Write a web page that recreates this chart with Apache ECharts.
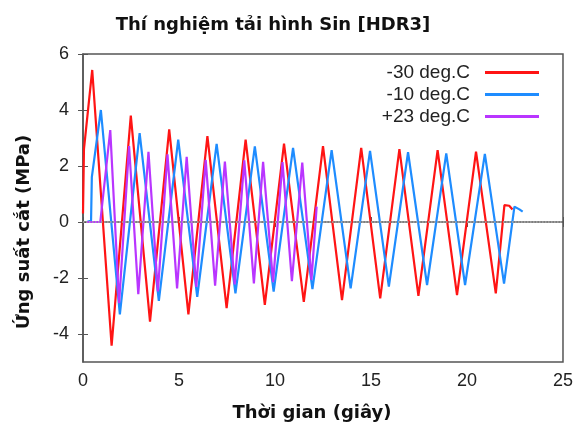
<!DOCTYPE html>
<html>
<head>
<meta charset="utf-8">
<script src="https://cdn.jsdelivr.net/npm/echarts@6/dist/echarts.min.js"></script>
<style>
  html, body { margin: 0; padding: 0; background: #fff; }
  #main { width: 576px; height: 427px; }
</style>
</head>
<body>
<div id="main"></div>
<script>
// turning points of each recorded curve (time in s, stress in MPa)
const redT = [0, 0.05, 0.48, 1.49, 2.49, 3.49, 4.49, 5.49, 6.48, 7.48, 8.47, 9.47, 10.47, 11.5, 12.5, 13.49, 14.49, 15.48, 16.48, 17.47, 18.47, 19.48, 20.47, 21.5, 21.95, 22.2, 22.37];
const redV = [0.3, 2.6, 5.43, -4.42, 3.8, -3.56, 3.31, -3.3, 3.07, -3.08, 2.94, -2.96, 2.8, -2.85, 2.71, -2.79, 2.65, -2.73, 2.6, -2.64, 2.57, -2.61, 2.51, -2.55, 0.6, 0.58, 0.45];

const blueT = [0.2, 0.42, 0.46, 0.93, 1.92, 2.95, 3.95, 4.96, 5.95, 6.96, 7.94, 8.95, 9.93, 10.94, 11.95, 12.95, 13.94, 14.95, 15.93, 16.93, 17.92, 18.92, 19.9, 20.93, 21.93, 22.47, 22.73, 22.9];
const blueV = [0, 0.05, 1.6, 4.0, -3.3, 3.17, -2.82, 2.94, -2.67, 2.79, -2.55, 2.7, -2.49, 2.65, -2.4, 2.57, -2.37, 2.54, -2.31, 2.49, -2.25, 2.45, -2.25, 2.43, -2.2, 0.55, 0.45, 0.37];

const purpleT = [0.2, 0.9, 1.42, 1.88, 2.4, 2.88, 3.41, 3.9, 4.4, 4.9, 5.4, 5.9, 6.39, 6.88, 7.39, 7.9, 8.4, 8.9, 9.38, 9.9, 10.39, 10.88, 11.42, 11.9, 12.17];
const purpleV = [0, 0, 3.28, -2.9, 2.71, -2.58, 2.51, -2.48, 2.42, -2.37, 2.33, -2.32, 2.22, -2.27, 2.16, -2.23, 2.2, -2.19, 2.15, -2.15, 2.14, -2.11, 2.12, -2.07, 0.55];

const seriesNames = ['-30 deg.C', '-10 deg.C', '+23 deg.C'];
const yTicks = [-4, -2, 0, 2, 4, 6];

const pairs = (t, v) => t.map((x, i) => [x, v[i]]);

const myChart = echarts.init(document.getElementById('main'));

const mkLine = (name, t, v, color) => ({
  name,
  type: 'line',
  data: pairs(t, v),
  symbol: 'none',
  lineStyle: { color, width: 2.2 },
  itemStyle: { color },
  animation: false,
});

const option = {
  animation: false,
  title: {
    text: 'Thí nghiệm tải hình Sin [HDR3]',
    left: 268,
    textAlign: 'center',
    top: 11,
    textStyle: { fontFamily: 'DejaVu Sans', fontSize: 18, fontWeight: 'bold', color: '#111' },
  },
  legend: {
    orient: 'vertical',
    right: 32,
    top: 57,
    align: 'right',
    icon: 'rect',
    itemWidth: 54,
    itemHeight: 3,
    itemGap: 1,
    textStyle: { fontFamily: 'Liberation Sans', fontSize: 19, color: '#222', padding: [0, 10, 0, 0], lineHeight: 21 },
    data: seriesNames,
  },
  grid: {
    left: 83, right: 13, top: 54, bottom: 64,
    show: true, borderColor: '#555', borderWidth: 1.5,
  },
  xAxis: [
    {
      type: 'value', min: 0, max: 25, interval: 5,
      name: 'Thời gian (giây)',
      nameLocation: 'middle',
      nameGap: 42,
      nameTextStyle: { fontFamily: 'DejaVu Sans', fontSize: 18, fontWeight: 'bold', color: '#111', padding: [0, 22, 0, 0] },
      axisLine: { show: true, lineStyle: { color: '#555', width: 1.5 } },
      axisTick: { inside: true, length: 5, lineStyle: { color: '#555' } },
      axisLabel: { fontFamily: 'Liberation Sans', fontSize: 18, color: '#222', margin: 10 },
      splitLine: { show: false },
    },
    {
      type: 'value', min: 0, max: 25, interval: 5, position: 'top',
      axisLine: { show: false },
      axisTick: { inside: true, length: 5, lineStyle: { color: '#555' } },
      axisLabel: { show: false },
      splitLine: { show: false },
    },
  ],
  yAxis: [
    {
      type: 'value', min: -5, max: 6,
      name: 'Ứng suất cắt (MPa)',
      nameLocation: 'middle',
      nameGap: 50,
      nameTextStyle: { fontFamily: 'DejaVu Sans', fontSize: 18, fontWeight: 'bold', color: '#111', padding: [0, 48, 0, 0] },
      axisLine: { show: true, lineStyle: { color: '#555', width: 1.5 } },
      axisTick: { inside: true, length: 5, customValues: yTicks, lineStyle: { color: '#555' } },
      axisLabel: { fontFamily: 'Liberation Sans', fontSize: 18, color: '#222', margin: 14, customValues: yTicks },
      splitLine: { show: false },
    },
    {
      type: 'value', min: -5, max: 6, position: 'right',
      axisLine: { show: false },
      axisTick: { inside: true, length: 5, customValues: yTicks, lineStyle: { color: '#555' } },
      axisLabel: { show: false, customValues: yTicks },
      splitLine: { show: false },
    },
  ],
  series: [
    Object.assign(mkLine(seriesNames[0], redT, redV, '#ff1414'), {
      markLine: {
        silent: true,
        symbol: 'none',
        label: { show: false },
        lineStyle: { color: '#aaa', type: 'dotted', width: 1.5 },
        data: [{ yAxis: 0 }],
      },
    }),
    mkLine(seriesNames[1], blueT, blueV, '#1e8cff'),
    mkLine(seriesNames[2], purpleT, purpleV, '#b935ff'),
  ],
};

myChart.setOption(option);
</script>
</body>
</html>
